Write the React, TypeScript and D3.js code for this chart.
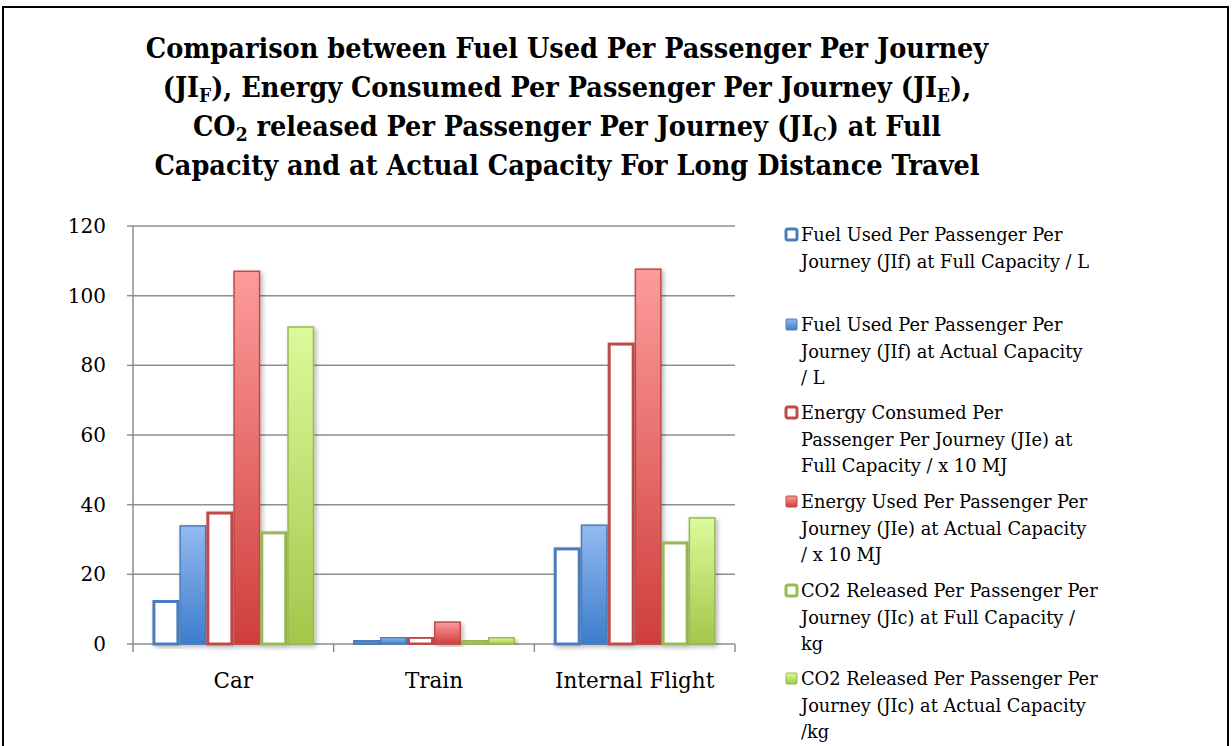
import React from "react";
import * as d3 from "d3";

const categories = ["Car", "Train", "Internal Flight"];
const fuelFull = [12.2, 0.9, 27.3];
const fuelActual = [33.9, 1.8, 34.1];
const energyFull = [37.6, 1.9, 86.1];
const energyActual = [107, 6.3, 107.6];
const co2Full = [31.9, 0.9, 29];
const co2Actual = [91, 1.8, 36.2];
const yTicks = [0, 20, 40, 60, 80, 100, 120];

const seriesNames = [
  ["Fuel Used Per Passenger Per", "Journey (JIf) at Full Capacity / L"],
  ["Fuel Used Per Passenger Per", "Journey (JIf) at Actual Capacity", "/ L"],
  ["Energy Consumed Per", "Passenger Per Journey (JIe) at", "Full Capacity / x 10 MJ"],
  ["Energy Used Per Passenger Per", "Journey (JIe) at Actual Capacity", "/ x 10 MJ"],
  ["CO2 Released Per Passenger Per", "Journey (JIc) at Full Capacity /", "kg"],
  ["CO2 Released Per Passenger Per", "Journey (JIc) at Actual Capacity", "/kg"],
];
const seriesValues = [fuelFull, fuelActual, energyFull, energyActual, co2Full, co2Actual];
const hollow = [true, false, true, false, true, false];
const strokes = ["#4a7ebb", "#4a7ebb", "#be4b48", "#be4b48", "#98b954", "#98b954"];
const gradTop = ["#fff", "#94b9f0", "#fff", "#fd9c9b", "#fff", "#dbfb9b"];
const gradBot = ["#fff", "#3c7dcc", "#fff", "#cf3e3b", "#fff", "#a2c74a"];
const legendY = [241, 331, 419, 508, 597, 685];

export default function App() {
  const W = 1232, H = 746;
  const x0 = d3.scaleBand<string>().domain(categories).range([133, 735]).paddingInner(0).paddingOuter(0);
  const x1 = d3.scaleBand<number>().domain(d3.range(6)).range([0, x0.bandwidth()]).paddingInner(0).paddingOuter(0.72);
  const y = d3.scaleLinear().domain([0, 120]).range([644, 226]);
  const serif = "'DejaVu Serif', 'Liberation Serif', serif";
  const titleFont = "'DejaVu Serif Condensed', 'DejaVu Serif', serif";
  const titleSize = 28.5;
  const subSize = 19;
  return (
    <svg width={W} height={H} style={{ position: "absolute", left: 0, top: 0, background: "#fff" }}>
      <defs>
        {d3.range(6).map((i) => (
          <linearGradient key={i} id={`g${i}`} x1="0" y1="0" x2="0" y2="1">
            <stop offset="0%" stopColor={gradTop[i]} />
            <stop offset="100%" stopColor={gradBot[i]} />
          </linearGradient>
        ))}
        <filter id="sh" x="-20%" y="-5%" width="150%" height="115%">
          <feGaussianBlur in="SourceAlpha" stdDeviation="2.5" />
          <feOffset dx="2" dy="2" result="b" />
          <feComponentTransfer><feFuncA type="linear" slope="0.3" /></feComponentTransfer>
          <feMerge><feMergeNode /><feMergeNode in="SourceGraphic" /></feMerge>
        </filter>
      </defs>
      <rect x={3} y={7} width={1225} height={760} fill="#fff" stroke="#000" strokeWidth={2} />
      {/* Title */}
      <g fontFamily={titleFont} fontWeight="bold" fontSize={titleSize} textAnchor="middle" fill="#000">
        <text x={567} y={58}>Comparison between Fuel Used Per Passenger Per Journey</text>
        <text x={567} y={97}>
          (JI<tspan fontSize={subSize} dy={5}>F</tspan><tspan dy={-5}>), Energy Consumed Per Passenger Per Journey (JI</tspan>
          <tspan fontSize={subSize} dy={5}>E</tspan><tspan dy={-5}>),</tspan>
        </text>
        <text x={567} y={136}>
          CO<tspan fontSize={subSize} dy={5}>2</tspan><tspan dy={-5}> released Per Passenger Per Journey (JI</tspan>
          <tspan fontSize={subSize} dy={5}>C</tspan><tspan dy={-5}>) at Full</tspan>
        </text>
        <text x={567} y={175}>Capacity and at Actual Capacity For Long Distance Travel</text>
      </g>
      {/* Grid */}
      {yTicks.map((t) => (
        <g key={t}>
          <line x1={133} x2={735} y1={y(t)} y2={y(t)} stroke="#8e8e8e" strokeWidth={1.5} />
          <line x1={127} x2={133} y1={y(t)} y2={y(t)} stroke="#8e8e8e" strokeWidth={1.5} />
          <text x={106} y={y(t) + 7} textAnchor="end" fontFamily={serif} fontSize={20} fill="#000">{t}</text>
        </g>
      ))}
      <line x1={133} x2={133} y1={226} y2={644} stroke="#8e8e8e" strokeWidth={1.5} />
      {[133, ...categories.map((c) => (x0(c) as number) + x0.bandwidth())].map((v, i) => (
        <line key={i} x1={v} x2={v} y1={644} y2={652} stroke="#8e8e8e" strokeWidth={1.5} />
      ))}
      {/* Bars */}
      {categories.map((c, ci) => (
        <g key={c} transform={`translate(${x0(c)},0)`}>
          {seriesValues.map((vals, si) => {
            const bx = x1(si) as number;
            const bw = x1.bandwidth();
            const top = y(vals[ci]);
            return (
              <rect key={si} x={bx + (hollow[si] ? 1.5 : 0.75)} y={top} width={bw - (hollow[si] ? 3 : 1.5)} height={y(0) - top}
                fill={hollow[si] ? "#fff" : `url(#g${si})`} stroke={strokes[si]} strokeWidth={hollow[si] ? 3 : 1.5}
                filter="url(#sh)" />
            );
          })}
          <text x={x0.bandwidth() / 2} y={688} textAnchor="middle" fontFamily={serif} fontSize={21.5} fill="#000">{c}</text>
        </g>
      ))}
      {/* Legend */}
      {seriesNames.map((lines, i) => (
        <g key={i}>
          {hollow[i] ? (
            <rect x={786} y={legendY[i] - 12} width={11} height={11} rx={2} fill="#fff" stroke={strokes[i]} strokeWidth={3} />
          ) : (
            <rect x={786} y={legendY[i] - 12} width={11} height={11} rx={1} fill={`url(#g${i})`} stroke={strokes[i]} strokeWidth={1} />
          )}
          <text fontFamily={serif} fontSize={17.8} fill="#000">
            {lines.map((l, j) => (
              <tspan key={j} x={801} y={legendY[i] + j * 26.5}>{l}</tspan>
            ))}
          </text>
        </g>
      ))}
    </svg>
  );
}
